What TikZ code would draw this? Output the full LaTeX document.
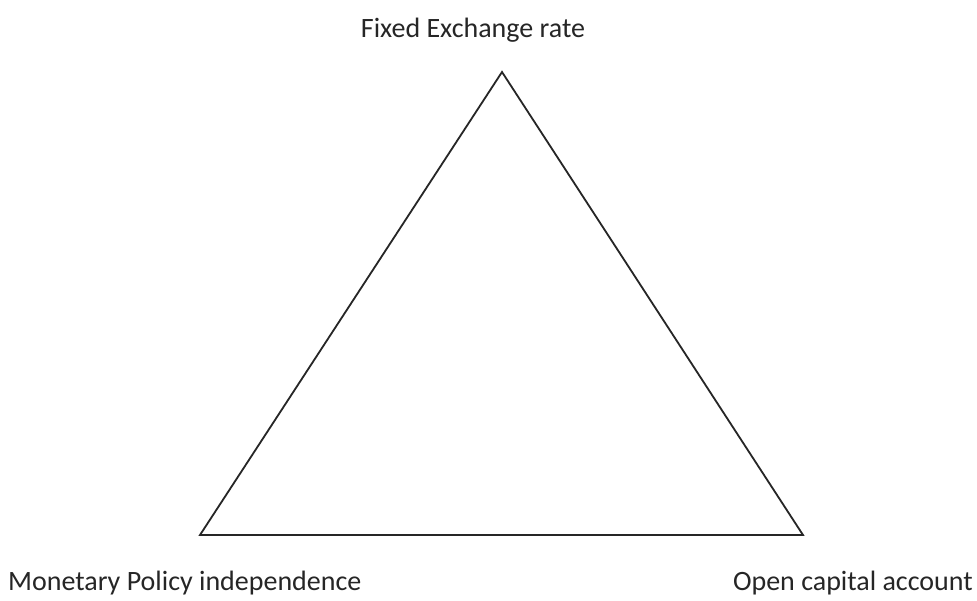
\documentclass[tikz,border=0pt]{standalone}
\usepackage{fontspec}
\setmainfont{Carlito}
\begin{document}
\begin{tikzpicture}[x=1pt,y=-1pt,
  side/.style={draw=black!85,line width=1.8pt,line join=miter},
  lbl/.style={font=\fontsize{28}{32}\selectfont,text=black!85,inner sep=0pt}]
\useasboundingbox[fill=white] (0,0) rectangle (977,601);
\coordinate (T) at (502,72);
\coordinate (L) at (200,535);
\coordinate (R) at (803,535);
\draw[side] (T) -- (L) -- (R) -- cycle;
\node[lbl,anchor=base] (fx) at (473,38) {Fixed Exchange rate};
\node[lbl,anchor=base west] (mp) at (8,590) {Monetary Policy independence};
\node[lbl,anchor=base east] (oc) at (973,590) {Open capital account};
\end{tikzpicture}
\end{document}
